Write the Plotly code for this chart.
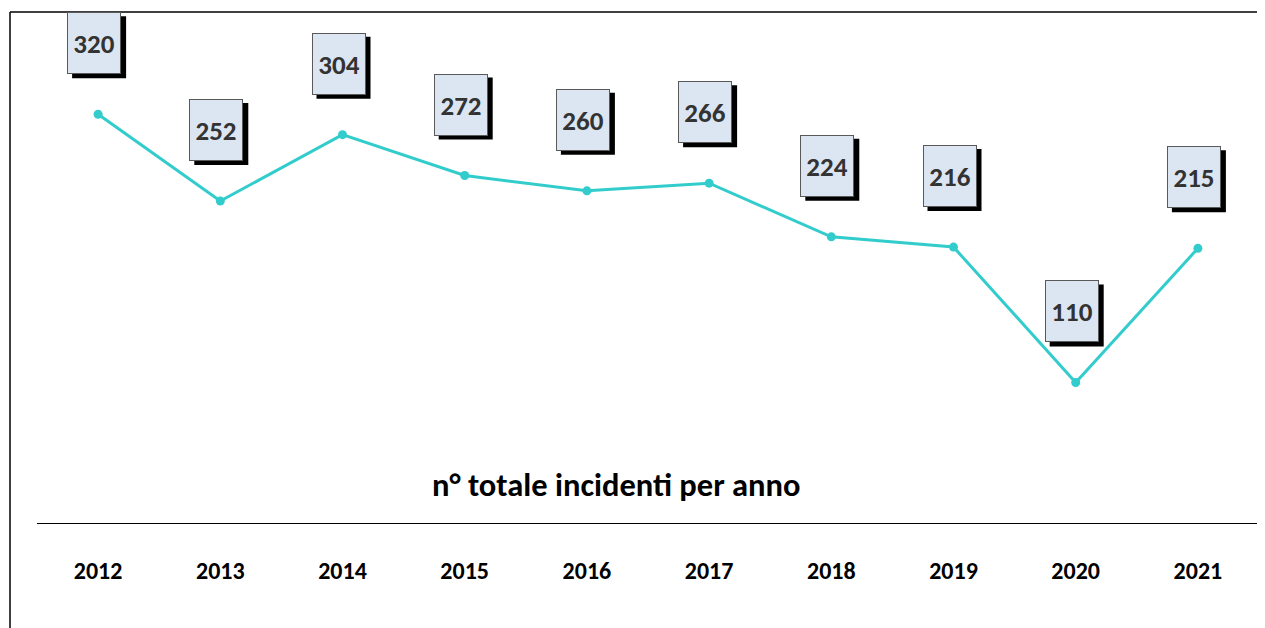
import plotly.graph_objects as go

years = [2012, 2013, 2014, 2015, 2016, 2017, 2018, 2019, 2020, 2021]
incidenti = [320, 252, 304, 272, 260, 266, 224, 216, 110, 215]

FONT = 'Carlito, Lato, sans-serif'

fig = go.Figure()
fig.add_trace(go.Scatter(
    x=years,
    y=incidenti,
    mode='lines+markers',
    line=dict(color='#33cccc', width=3),
    marker=dict(color='#33cccc', size=9),
    hoverinfo='x+y',
    showlegend=False
))

# value boxes with a black drop shadow (shadow = pixel-sized rect anchored at the point)
for yr, val in zip(years, incidenti):
    fig.add_shape(
        type='rect', xref='x', yref='y',
        xsizemode='pixel', ysizemode='pixel', xanchor=yr, yanchor=val,
        x0=-26, x1=28, y0=36, y1=98,
        fillcolor='black', line=dict(width=0)
    )
    fig.add_annotation(
        x=yr, y=val, text='<b>%d</b>' % val, showarrow=False,
        xshift=-4, yshift=71, width=50, height=58,
        bgcolor='#dce6f2', bordercolor='#595959', borderwidth=1,
        font=dict(family=FONT, size=27, color='#333333')
    )

fig.add_annotation(
    x=(616 - 37) / 1222, y=(523 - 507) / 511, xref='paper', yref='paper',
    text='<b>n° totale incidenti per anno</b>', showarrow=False,
    font=dict(family=FONT, size=32.5, color='black')
)

# outer frame lines (left and top)
fig.add_shape(type='line', xref='paper', yref='paper',
              x0=(10 - 37) / 1222, x1=(10 - 37) / 1222, y0=1, y1=-120 / 511,
              line=dict(color='black', width=1.5))
fig.add_shape(type='line', xref='paper', yref='paper',
              x0=(10 - 37) / 1222, x1=(1265 - 37) / 1222, y0=1, y1=1,
              line=dict(color='black', width=1.5))

fig.update_layout(
    width=1265, height=628,
    margin=dict(l=29, r=14, t=4, b=113),
    plot_bgcolor='white',
    paper_bgcolor='white',
    xaxis=dict(
        range=[years[0] - 0.5, years[-1] + 0.5],
        showgrid=False, zeroline=False,
        showline=True, linecolor='black', linewidth=1,
        ticks='', ticklabelstandoff=26,
        tickfont=dict(family=FONT, size=24, color='black'),
        tickvals=years, ticktext=['<b>%d</b>' % y for y in years]
    ),
    yaxis=dict(range=[0, 400], visible=False, showgrid=False, zeroline=False)
)

fig.write_html('out.html')
